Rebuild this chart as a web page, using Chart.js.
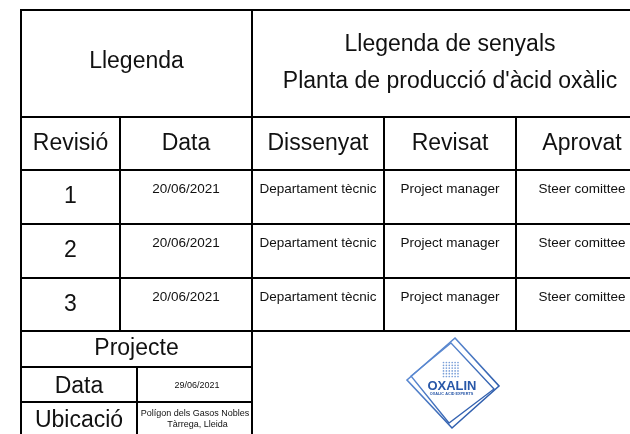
<!DOCTYPE html>
<html>
<head>
<meta charset="utf-8">
<script src="https://cdn.jsdelivr.net/npm/chart.js@4"></script>
<style>
  body { margin: 0; background: #fff; }
  #wrap { width: 630px; height: 434px; }
</style>
</head>
<body>
<div id="wrap"><canvas id="sheet" width="630" height="434"></canvas></div>
<script>
  // table content
  const titleLeft = 'Llegenda';
  const titleLines = ['Llegenda de senyals', "Planta de producció d'àcid oxàlic"];
  const columns = ['Revisió', 'Data', 'Dissenyat', 'Revisat', 'Aprovat'];
  const revisions = ['1', '2', '3'];
  const revDates = ['20/06/2021', '20/06/2021', '20/06/2021'];
  const designedBy = ['Departament tècnic', 'Departament tècnic', 'Departament tècnic'];
  const reviewedBy = ['Project manager', 'Project manager', 'Project manager'];
  const approvedBy = ['Steer comittee', 'Steer comittee', 'Steer comittee'];
  const projectLabels = ['Projecte', 'Data', 'Ubicació'];
  const projectDate = '29/06/2021';
  const projectPlace = ['Polígon dels Gasos Nobles', 'Tàrrega, Lleida'];

  // grid geometry (scale units = px)
  const colX = [21, 120, 252, 384, 516, 648];
  const rowY = [10, 117, 170, 224, 278, 331, 367, 402, 440];
  const splitX = 137;

  const segments = [
    [colX[0], rowY[0], colX[5], rowY[0]],
    [colX[0], rowY[0], colX[0], rowY[8]],
    [colX[2], rowY[0], colX[2], rowY[8]],
    [colX[0], rowY[1], colX[5], rowY[1]],
    [colX[0], rowY[2], colX[5], rowY[2]],
    [colX[0], rowY[3], colX[5], rowY[3]],
    [colX[0], rowY[4], colX[5], rowY[4]],
    [colX[0], rowY[5], colX[5], rowY[5]],
    [colX[1], rowY[1], colX[1], rowY[5]],
    [colX[3], rowY[1], colX[3], rowY[5]],
    [colX[4], rowY[1], colX[4], rowY[5]],
    [colX[0], rowY[6], colX[2], rowY[6]],
    [colX[0], rowY[7], colX[2], rowY[7]],
    [splitX, rowY[6], splitX, rowY[8]]
  ];

  const FONT = '"Liberation Sans", Arial, sans-serif';
  const INK = '#111';

  const tablePlugin = {
    id: 'tableText',
    afterDatasetsDraw(chart) {
      const { ctx, scales: { x, y } } = chart;
      const px = v => x.getPixelForValue(v);
      const py = v => y.getPixelForValue(v);
      const mid = (a, b) => (a + b) / 2;
      const text = (s, cx, by, size, weight, color) => {
        ctx.font = (weight || 'normal') + ' ' + size + 'px ' + FONT;
        ctx.fillStyle = color || INK;
        ctx.textAlign = 'center';
        ctx.textBaseline = 'alphabetic';
        ctx.fillText(s, px(cx), py(by));
      };
      ctx.save();
      text(titleLeft, mid(colX[0], colX[2]), 68, 23);
      text(titleLines[0], mid(colX[2], colX[5]), 51, 23);
      text(titleLines[1], mid(colX[2], colX[5]), 87.5, 23);
      columns.forEach((c, i) => text(c, mid(colX[i], colX[i + 1]), 150, 23));
      revisions.forEach((r, i) => {
        const top = rowY[2 + i];
        text(r, mid(colX[0], colX[1]), top + 32.5, 23);
        text(revDates[i], mid(colX[1], colX[2]), top + 23.3, 13.5);
        text(designedBy[i], mid(colX[2], colX[3]), top + 23.3, 13.5);
        text(reviewedBy[i], mid(colX[3], colX[4]), top + 23.3, 13.5);
        text(approvedBy[i], mid(colX[4], colX[5]), top + 23.3, 13.5);
      });
      text(projectLabels[0], mid(colX[0], colX[2]), 355, 23);
      text(projectLabels[1], mid(colX[0], splitX), 392.7, 23);
      text(projectLabels[2], mid(colX[0], splitX), 427.3, 23);
      text(projectDate, 197, 387.5, 9);
      text(projectPlace[0], 195, 415.7, 9);
      text(projectPlace[1], 197.5, 426.7, 9);

      // logo
      const c = [452, 383];
      const outer = [[455, 338], [499, 386], [452, 428], [407, 380]];
      const inner = [[451, 343], [494, 389], [449, 423], [411, 376]];
      const grad = ctx.createLinearGradient(px(407), py(338), px(499), py(428));
      grad.addColorStop(0, '#6d9be0');
      grad.addColorStop(1, '#1d4c9e');
      ctx.strokeStyle = grad;
      [[outer, 1.6], [inner, 1.3]].forEach(([pts, w]) => {
        ctx.lineWidth = w;
        ctx.beginPath();
        pts.forEach((p, i) => {
          if (i === 0) ctx.moveTo(px(p[0]), py(p[1])); else ctx.lineTo(px(p[0]), py(p[1]));
        });
        ctx.closePath();
        ctx.stroke();
      });
      ctx.fillStyle = '#7a9fd8';
      for (let i = 0; i < 6; i++) {
        for (let j = 0; j < 6; j++) {
          ctx.beginPath();
          ctx.arc(px(443.5 + i * 2.9), py(362.5 + j * 2.8), 0.85, 0, Math.PI * 2);
          ctx.fill();
        }
      }
      ctx.save();
      ctx.translate(px(c[0]), py(389.5));
      ctx.scale(1.08, 1.0);
      ctx.font = 'bold 12px ' + FONT;
      ctx.fillStyle = '#2857a8';
      ctx.textAlign = 'center';
      ctx.fillText('OXALIN', 0, 0);
      ctx.restore();
      text('OXALIC ACID EXPERTS', c[0] - 0.5, 394.5, 3.8, 'bold', '#2857a8');
      ctx.restore();
    }
  };

  new Chart(document.getElementById('sheet'), {
    type: 'scatter',
    data: {
      datasets: segments.map(s => ({
        data: [{ x: s[0], y: s[1] }, { x: s[2], y: s[3] }],
        showLine: true,
        borderColor: '#000',
        borderWidth: 2,
        borderCapStyle: 'square',
        pointRadius: 0,
        clip: 4
      }))
    },
    options: {
      responsive: false,
      animation: false,
      layout: { padding: 0 },
      events: [],
      plugins: { legend: { display: false }, tooltip: { enabled: false } },
      scales: {
        x: { type: 'linear', min: 0, max: 630, display: false },
        y: { type: 'linear', min: 0, max: 434, reverse: true, display: false }
      }
    },
    plugins: [tablePlugin]
  });
</script>
</body>
</html>
